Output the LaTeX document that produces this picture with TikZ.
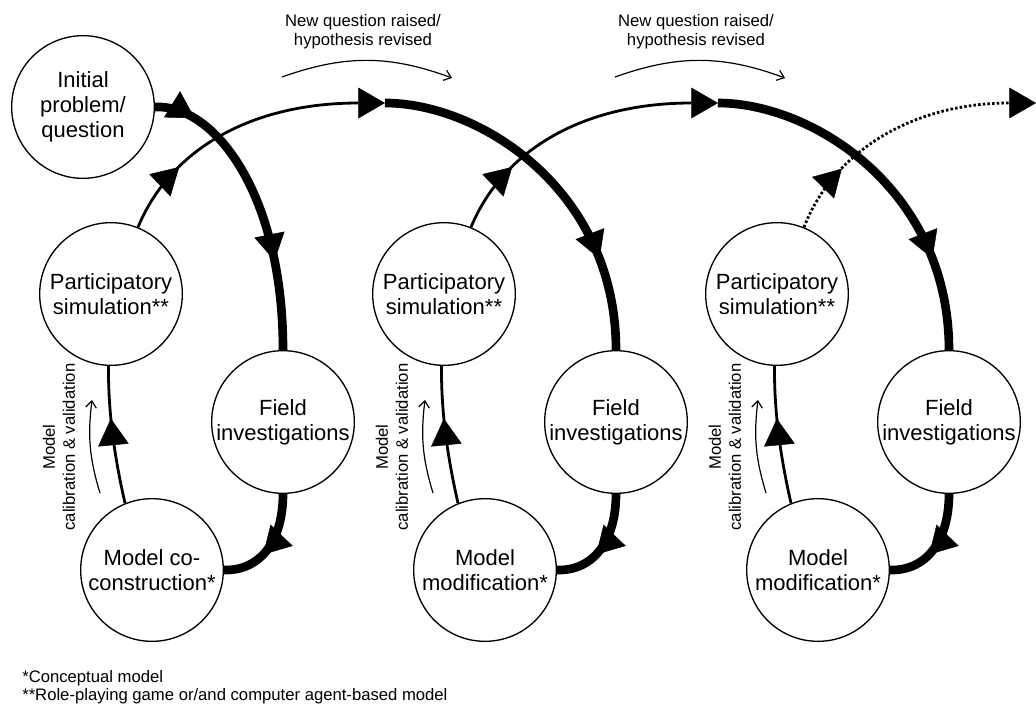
\documentclass[tikz,border=0pt]{standalone}
\usepackage{fontspec}
\setmainfont{Liberation Sans}
\usetikzlibrary{arrows.meta,decorations.markings}
\begin{document}
\begin{tikzpicture}[x=0.75pt,y=0.75pt,
  stage/.style={circle,draw,line width=1pt,fill=white,minimum size=107pt,inner sep=0pt,
    align=center,font=\fontsize{16.5}{18.8}\selectfont},
  note/.style={align=center,font=\fontsize{12.5}{14.4}\selectfont},
  sidenote/.style={align=center,rotate=90,font=\fontsize{12.5}{15}\selectfont},
  foot/.style={anchor=base west,inner sep=0pt,font=\fontsize{12.5}{14.2}\selectfont},
  tri/.tip={Triangle[length=20pt,width=23pt,line width=0.4pt]},
  midarrow/.style={postaction={decorate,decoration={markings,
    mark=at position #1 with {\arrow{tri}}}}},
  thickflow/.style={line width=6.5pt},
  link/.style={line width=2.1pt},
  hint/.style={line width=0.9pt,-{Straight Barb[length=5pt,width=8pt]}}]
\useasboundingbox (0,0) rectangle (1036,-704);

% stages of the three cycles
\node[stage] (I)  at (83,-107)  {Initial\\problem/\\question};
\node[stage] (P1) at (111,-294) {Participatory\\simulation**};
\node[stage] (F1) at (283,-422) {Field\\investigations};
\node[stage] (M1) at (152,-570) {Model co-\\construction*};
\node[stage] (P2) at (444,-294) {Participatory\\simulation**};
\node[stage] (F2) at (616,-422) {Field\\investigations};
\node[stage] (M2) at (485,-570) {Model\\modification*};
\node[stage] (P3) at (777,-294) {Participatory\\simulation**};
\node[stage] (F3) at (949,-422) {Field\\investigations};
\node[stage] (M3) at (818,-570) {Model\\modification*};

% junctions where each cycle hands over to the next
\coordinate (J2) at (385,-103);
\coordinate (J3) at (718,-103);
\coordinate (J4) at (1036,-103);

% cycle 1
\draw[thickflow,midarrow=0.14,midarrow=0.7] (I.east) .. controls (215,-104) and (283,-195) .. (F1.north);
\draw[thickflow,midarrow=0.6] (F1.south) .. controls (283,-540) and (261,-571) .. (M1.east);
\draw[link,midarrow=0.62] (M1.112) .. controls (117,-468) and (108,-420) .. (P1.268);
\draw[link,midarrow=0.25,-{tri}] (P1.68) .. controls (170,-150) and (250,-103) .. (J2);

% cycle 2
\draw[thickflow,midarrow=0.75] (J2) .. controls (480,-103) and (616,-190) .. (F2.north);
\draw[thickflow,midarrow=0.6] (F2.south) .. controls (616,-540) and (594,-571) .. (M2.east);
\draw[link,midarrow=0.62] (M2.112) .. controls (450,-468) and (441,-420) .. (P2.268);
\draw[link,midarrow=0.25,-{tri}] (P2.68) .. controls (503,-150) and (583,-103) .. (J3);

% cycle 3
\draw[thickflow,midarrow=0.75] (J3) .. controls (813,-103) and (949,-190) .. (F3.north);
\draw[thickflow,midarrow=0.6] (F3.south) .. controls (949,-540) and (927,-571) .. (M3.east);
\draw[link,midarrow=0.62] (M3.112) .. controls (783,-468) and (774,-420) .. (P3.268);
\draw[link,dash pattern=on 1.9pt off 1.6pt,midarrow=0.25,-{tri}] (P3.68) .. controls (834,-150) and (914,-103) .. (J4);

% annotations above the cycles
\node[note] (q1) at (363,-32) {New question raised/\\hypothesis revised};
\node[note] (q2) at (696,-32) {New question raised/\\hypothesis revised};
\coordinate (q1a) at (282,-77);  \coordinate (q1b) at (452,-78);
\coordinate (q2a) at (615,-77);  \coordinate (q2b) at (785,-78);
\draw[hint] (q1a) to[bend left=20] (q1b);
\draw[hint] (q2a) to[bend left=20] (q2b);

% calibration notes beside each model
\node[sidenote] (c1) at (59,-447)  {Model\\calibration \& validation};
\node[sidenote] (c2) at (392,-447) {Model\\calibration \& validation};
\node[sidenote] (c3) at (725,-447) {Model\\calibration \& validation};
\coordinate (c1a) at (100,-493); \coordinate (c1b) at (92,-400);
\coordinate (c2a) at (433,-493); \coordinate (c2b) at (425,-400);
\coordinate (c3a) at (766,-493); \coordinate (c3b) at (758,-400);
\draw[hint] (c1a) to[bend left=12] (c1b);
\draw[hint] (c2a) to[bend left=12] (c2b);
\draw[hint] (c3a) to[bend left=12] (c3b);

% footnotes
\node[foot] (fn1) at (22,-682) {*Conceptual model};
\node[foot] (fn2) at (22,-700) {**Role-playing game or/and computer agent-based model};
\end{tikzpicture}
\end{document}
